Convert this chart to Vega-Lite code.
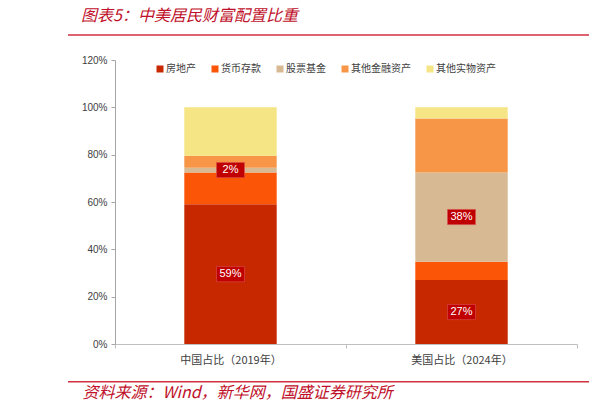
{
  "$schema": "https://vega.github.io/schema/vega-lite/v6.json",
  "width": 462,
  "height": 284,
  "autosize": {"type": "none"},
  "padding": {"left": 115, "top": 60, "right": 28, "bottom": 69},
  "background": "white",
  "config": {
    "view": {"stroke": null},
    "font": "Liberation Sans",
    "axisY": {"grid": false, "domainColor": "#A6A6A6", "tickColor": "#A6A6A6", "tickSize": 4, "labelFontSize": 10, "labelColor": "#404040", "labelPadding": 4, "labelFont": "Liberation Sans"},
    "axisX": {"grid": false, "domainColor": "#BFBFBF", "tickColor": "#BFBFBF", "tickSize": 4, "labelFontSize": 11, "labelColor": "#404040", "labelPadding": 6, "labelFont": "Noto Sans CJK SC", "labelAngle": 0, "tickBand": "extent"}
  },
  "title": {"text": "图表5：中美居民财富配置比重", "anchor": "start", "frame": "group", "dx": -34, "offset": 10, "font": "Noto Sans CJK SC", "fontSize": 16, "fontStyle": "italic", "fontWeight": "normal", "color": "#C0102A"},
  "data": {"values": [
    {"cat": "中国占比（2019年）", "type": "房地产", "o": 1, "pct": 0.59},
    {"cat": "中国占比（2019年）", "type": "货币存款", "o": 2, "pct": 0.135},
    {"cat": "中国占比（2019年）", "type": "股票基金", "o": 3, "pct": 0.02},
    {"cat": "中国占比（2019年）", "type": "其他金融资产", "o": 4, "pct": 0.05},
    {"cat": "中国占比（2019年）", "type": "其他实物资产", "o": 5, "pct": 0.205},
    {"cat": "美国占比（2024年）", "type": "房地产", "o": 1, "pct": 0.27},
    {"cat": "美国占比（2024年）", "type": "货币存款", "o": 2, "pct": 0.078},
    {"cat": "美国占比（2024年）", "type": "股票基金", "o": 3, "pct": 0.377},
    {"cat": "美国占比（2024年）", "type": "其他金融资产", "o": 4, "pct": 0.228},
    {"cat": "美国占比（2024年）", "type": "其他实物资产", "o": 5, "pct": 0.047}
  ]},
  "layer": [
    {
      "mark": {"type": "bar", "width": {"band": 0.4}},
      "encoding": {
        "x": {"field": "cat", "type": "nominal", "sort": null, "scale": {"paddingInner": 0, "paddingOuter": 0},
          "axis": {"title": "资料来源：Wind，新华网，国盛证券研究所", "titleX": -33, "titleY": 48, "titleAlign": "left", "titleAnchor": "start", "titleBaseline": "middle", "titleFont": "Noto Sans CJK SC", "titleFontSize": 16, "titleFontStyle": "italic", "titleFontWeight": "normal", "titleColor": "#C0102A"}},
        "y": {"field": "pct", "type": "quantitative", "stack": "zero", "title": null, "scale": {"domain": [0, 1.2]}, "axis": {"values": [0, 0.2, 0.4, 0.6, 0.8, 1.0, 1.2], "format": ".0%"}},
        "color": {"field": "type", "type": "nominal",
          "scale": {"domain": ["房地产", "货币存款", "股票基金", "其他金融资产", "其他实物资产"], "range": ["#C82800", "#FB5508", "#D7B993", "#F79646", "#F5E584"]},
          "legend": {"title": null, "orient": "none", "legendX": 40, "legendY": 4, "direction": "horizontal", "symbolType": "square", "symbolSize": 49, "symbolStrokeWidth": 0, "labelFontSize": 10, "labelFont": "Noto Sans CJK SC", "labelColor": "#404040", "labelOffset": 1, "columnPadding": 14, "padding": 0}},
        "order": {"field": "o"}
      }
    },
    {
      "transform": [
        {"stack": "pct", "groupby": ["cat"], "sort": [{"field": "o"}], "as": ["v0", "v1"]},
        {"filter": {"field": "type", "oneOf": ["房地产", "股票基金"]}},
        {"fold": ["v0", "v1"], "as": ["edge", "pos"]}
      ],
      "mark": {"type": "point", "shape": "M-1,-0.54H1V0.54H-1Z", "size": 784, "filled": true, "fill": "#C00000", "stroke": "#D85050", "strokeWidth": 0.6, "opacity": 1},
      "encoding": {
        "x": {"field": "cat", "type": "nominal", "sort": null},
        "y": {"aggregate": "mean", "field": "pos", "type": "quantitative", "title": null},
        "detail": {"field": "type"}
      }
    },
    {
      "transform": [
        {"stack": "pct", "groupby": ["cat"], "sort": [{"field": "o"}], "as": ["v0", "v1"]},
        {"filter": {"field": "type", "oneOf": ["房地产", "股票基金"]}},
        {"fold": ["v0", "v1"], "as": ["edge", "pos"]}
      ],
      "mark": {"type": "text", "color": "white", "fontSize": 11, "font": "Liberation Sans", "baseline": "middle", "align": "center"},
      "encoding": {
        "x": {"field": "cat", "type": "nominal", "sort": null},
        "y": {"aggregate": "mean", "field": "pos", "type": "quantitative", "title": null},
        "detail": {"field": "type"},
        "text": {"aggregate": "max", "field": "pct", "type": "quantitative", "format": ".0%"}
      }
    },
    {
      "data": {"values": [{}]},
      "mark": {"type": "rule", "color": "#D03040", "strokeWidth": 1.5, "x": -47, "x2": {"expr": "width + 12"}},
      "encoding": {"y": {"datum": 1.3056, "type": "quantitative"}}
    },
    {
      "data": {"values": [{}]},
      "mark": {"type": "rule", "color": "#D03040", "strokeWidth": 1.5, "x": -47, "x2": {"expr": "width + 12"}},
      "encoding": {"y": {"datum": -0.1593, "type": "quantitative"}}
    }
  ]
}
